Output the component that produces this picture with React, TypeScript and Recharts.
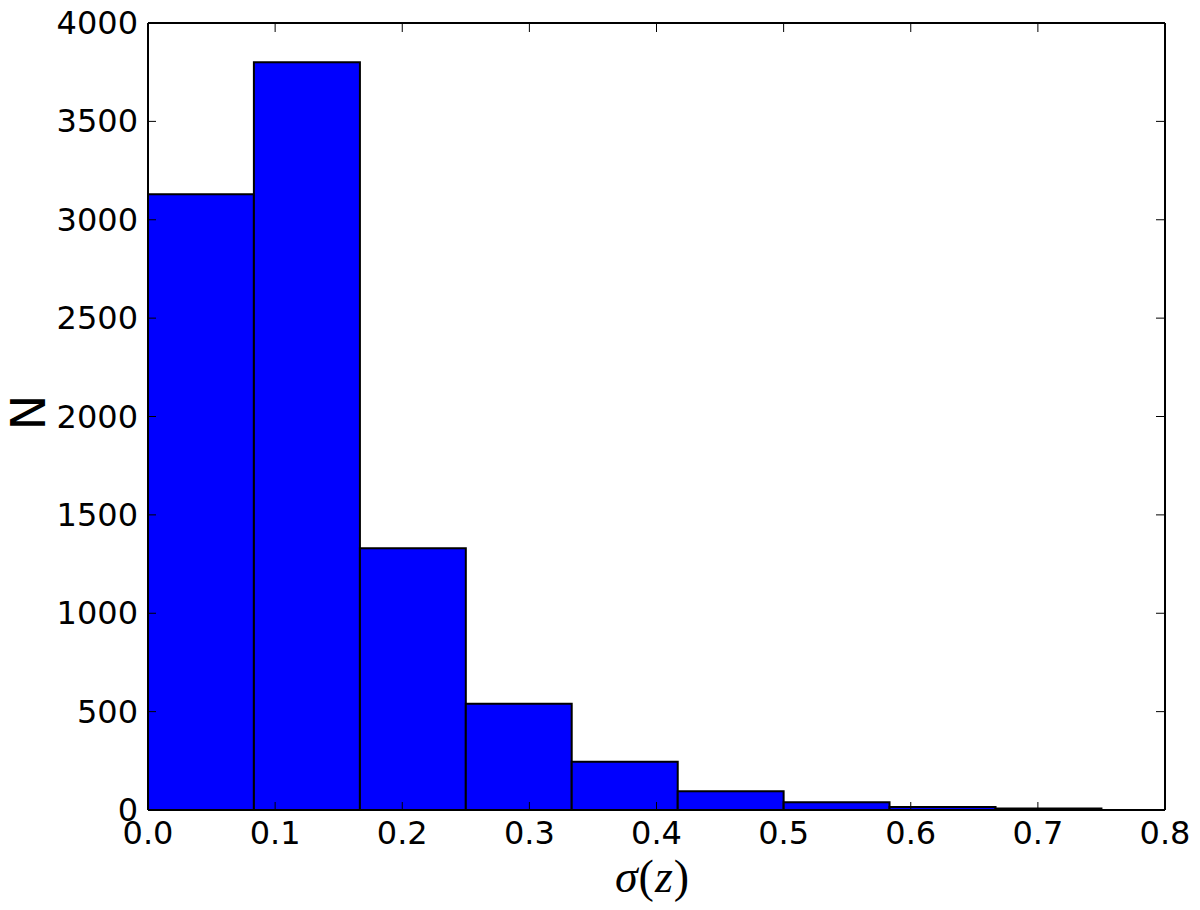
import { ComposedChart, XAxis, YAxis, ReferenceArea, Line, Label } from "recharts";

// histogram bin edges (left/right) and counts
const binLeft = [0, 0.0833, 0.1667, 0.25, 0.3333, 0.4167, 0.5, 0.5833, 0.6667];
const binRight = [0.0833, 0.1667, 0.25, 0.3333, 0.4167, 0.5, 0.5833, 0.6667, 0.75];
const counts = [3130, 3800, 1330, 540, 245, 95, 40, 15, 8];

const xTicks = [0, 0.1, 0.2, 0.3, 0.4, 0.5, 0.6, 0.7, 0.8];
const yTicks = [0, 500, 1000, 1500, 2000, 2500, 3000, 3500, 4000];

const bins = counts.map((n, i) => ({ left: binLeft[i], right: binRight[i], mid: (binLeft[i] + binRight[i]) / 2, n }));

const tickFont = "'DejaVu Sans', sans-serif";

const LeftTick = ({ x, y, payload }: any) => (
    <g>
        <line x1={x + 10} x2={x + 18} y1={y} y2={y} stroke="#000" strokeWidth={1} />
        <text x={x} y={y + 11} textAnchor="end" fontSize={32} fontFamily={tickFont} fill="#000">
            {payload.value}
        </text>
    </g>
);

// right axis sits 1px wide, so its ticks point back into the plot
const RightTick = ({ x, y }: any) => (
    <line x1={x - 9} x2={x} y1={y} y2={y} stroke="#000" strokeWidth={1} />
);

const BottomTick = ({ x, y, payload }: any) => (
    <g>
        <line x1={x} x2={x} y1={y - 8} y2={y} stroke="#000" strokeWidth={1} />
        <text x={x} y={y + 34} textAnchor="middle" fontSize={32} fontFamily={tickFont} fill="#000">
            {payload.value.toFixed(1)}
        </text>
    </g>
);

const TopTick = ({ x, y }: any) => (
    <line x1={x} x2={x} y1={y} y2={y + 9} stroke="#000" strokeWidth={1} />
);

export default function App() {
    return (
        <ComposedChart
            width={1184}
            height={900}
            data={bins}
            margin={{ top: 14, right: 26, left: 0, bottom: 0 }}
        >
            <XAxis
                xAxisId={0}
                dataKey="mid"
                type="number"
                domain={[0, 0.8]}
                ticks={xTicks}
                allowDataOverflow
                height={98}
                tickSize={0}
                tickMargin={0}
                tickLine={false}
                axisLine={{ stroke: "#000", strokeWidth: 2 }}
                tick={<BottomTick />}
                interval={0}
            >
                <Label
                    content={({ viewBox }: any) => (
                        <text
                            x={viewBox.x + viewBox.width / 2 - 4}
                            y={viewBox.y + 82}
                            textAnchor="middle"
                            fontSize={46}
                            fontFamily="'Liberation Serif', serif"
                            fill="#000"
                            letterSpacing={1}
                        >
                            <tspan fontStyle="italic">σ</tspan>
                            <tspan>(</tspan>
                            <tspan fontStyle="italic">z</tspan>
                            <tspan>)</tspan>
                        </text>
                    )}
                />
            </XAxis>
            <XAxis
                xAxisId="top"
                orientation="top"
                dataKey="mid"
                type="number"
                domain={[0, 0.8]}
                ticks={xTicks}
                allowDataOverflow
                height={1}
                tickSize={0}
                tickMargin={0}
                tickLine={false}
                axisLine={{ stroke: "#000", strokeWidth: 2 }}
                tick={<TopTick />}
                interval={0}
            />
            <YAxis
                yAxisId={0}
                type="number"
                domain={[0, 4000]}
                ticks={yTicks}
                allowDataOverflow
                width={140}
                tickSize={0}
                tickMargin={10}
                tickLine={false}
                axisLine={{ stroke: "#000", strokeWidth: 2 }}
                tick={<LeftTick />}
                interval={0}
            >
                <Label
                    content={({ viewBox }: any) => {
                        const cx = viewBox.x + 37;
                        const cy = viewBox.y + viewBox.height / 2 - 4;
                        return (
                            <text
                                x={cx}
                                y={cy}
                                transform={`rotate(-90, ${cx}, ${cy})`}
                                textAnchor="middle"
                                fontSize={48}
                                fontFamily={tickFont}
                                fill="#000"
                            >
                                N
                            </text>
                        );
                    }}
                />
            </YAxis>
            <YAxis
                yAxisId="right"
                orientation="right"
                type="number"
                domain={[0, 4000]}
                ticks={yTicks}
                allowDataOverflow
                width={1}
                tickSize={0}
                tickMargin={0}
                tickLine={false}
                axisLine={{ stroke: "#000", strokeWidth: 2 }}
                tick={<RightTick />}
                interval={0}
            />
            {bins.map((b, i) => (
                <ReferenceArea
                    key={i}
                    xAxisId={0}
                    yAxisId={0}
                    x1={b.left}
                    x2={b.right}
                    y1={0}
                    y2={b.n}
                    fill="#0000ff"
                    fillOpacity={1}
                    stroke="#000"
                    strokeWidth={2}
                    ifOverflow="hidden"
                />
            ))}
            <Line
                xAxisId={0}
                yAxisId={0}
                dataKey="n"
                stroke="none"
                dot={false}
                activeDot={false}
                isAnimationActive={false}
            />
        </ComposedChart>
    );
}
